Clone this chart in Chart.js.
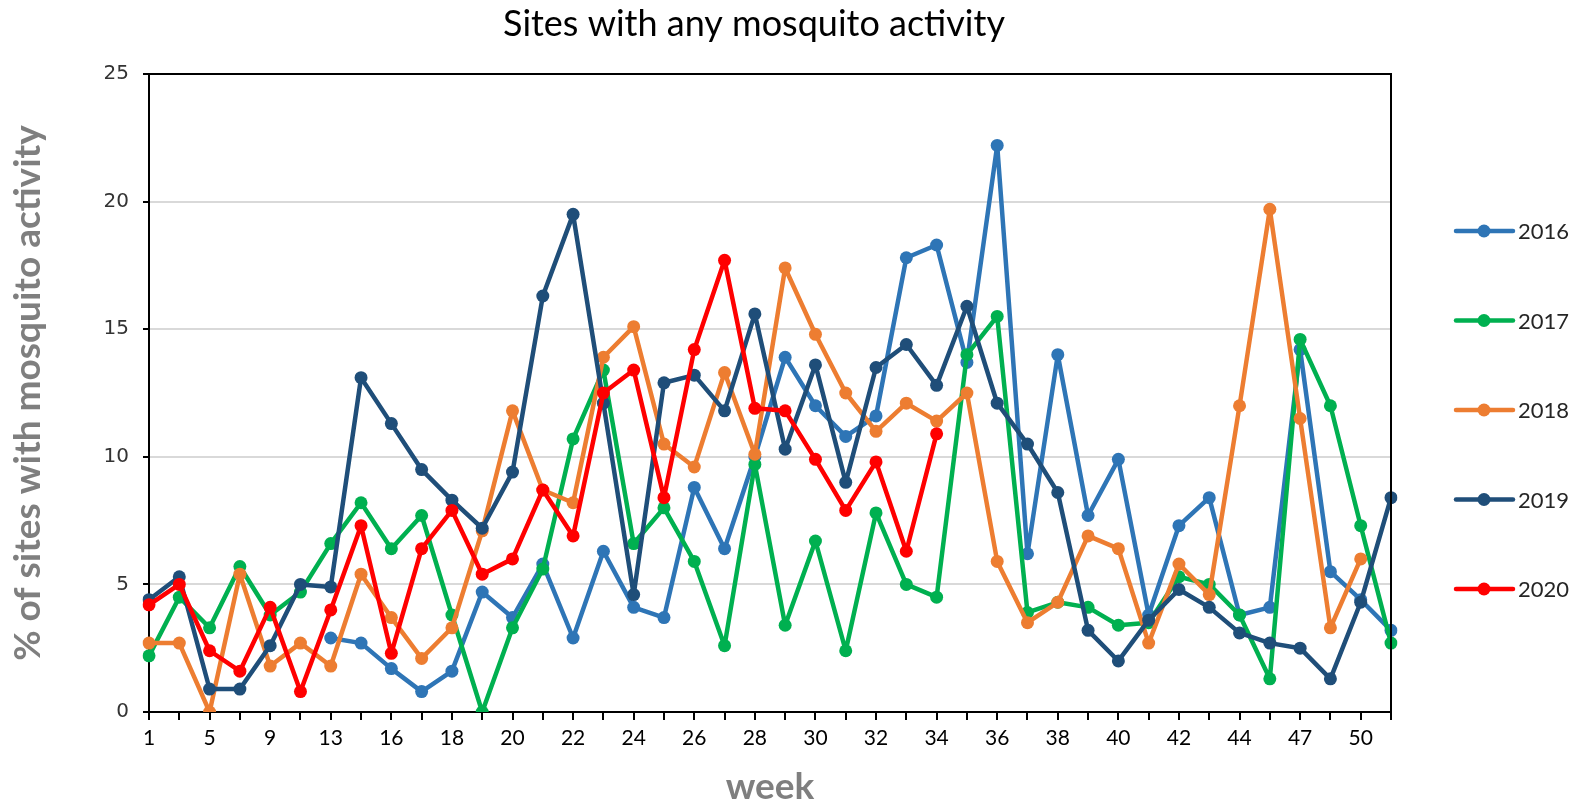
<!DOCTYPE html>
<html>
<head>
<meta charset="utf-8">
<title>Sites with any mosquito activity</title>
<script src="https://cdn.jsdelivr.net/npm/chart.js@4"></script>
<style>
  html, body { margin: 0; padding: 0; background: #fff; }
  canvas { display: block; }
</style>
</head>
<body>
<canvas id="chart" width="1587" height="803"></canvas>
<script>
const weeks = [1, 3, 5, 7, 9, 11, 13, 15, 16, 17, 18, 19, 20, 21, 22, 23, 24, 25, 26, 27, 28,
  29, 30, 31, 32, 33, 34, 35, 36, 37, 38, 39, 40, 41, 42, 43, 44, 46, 47, 49, 50, 52];

const years = ["2016", "2017", "2018", "2019", "2020"];
const colors = ["#2e75b6", "#00b050", "#ed7d31", "#1f4e79", "#ff0000"];

const s2016 = [null, null, null, null, null, null, 2.9, 2.7, 1.7, 0.8, 1.6, 4.7, 3.7, 5.8, 2.9, 6.3,
  4.1, 3.7, 8.8, 6.4, 10.0, 13.9, 12.0, 10.8, 11.6, 17.8, 18.3, 13.7, 22.2, 6.2, 14.0, 7.7, 9.9,
  3.8, 7.3, 8.4, 3.8, 4.1, 14.2, 5.5, 4.4, 3.2];
const s2017 = [2.2, 4.5, 3.3, 5.7, 3.8, 4.7, 6.6, 8.2, 6.4, 7.7, 3.8, 0, 3.3, 5.6, 10.7, 13.4,
  6.6, 8.0, 5.9, 2.6, 9.7, 3.4, 6.7, 2.4, 7.8, 5.0, 4.5, 14.0, 15.5, 3.9, 4.3, 4.1, 3.4, 3.5,
  5.3, 5.0, 3.8, 1.3, 14.6, 12.0, 7.3, 2.7];
const s2018 = [2.7, 2.7, 0, 5.4, 1.8, 2.7, 1.8, 5.4, 3.7, 2.1, 3.3, 7.1, 11.8, 8.7, 8.2, 13.9,
  15.1, 10.5, 9.6, 13.3, 10.1, 17.4, 14.8, 12.5, 11.0, 12.1, 11.4, 12.5, 5.9, 3.5, 4.3, 6.9, 6.4,
  2.7, 5.8, 4.6, 12.0, 19.7, 11.5, 3.3, 6.0, null];
const s2019 = [4.4, 5.3, 0.9, 0.9, 2.6, 5.0, 4.9, 13.1, 11.3, 9.5, 8.3, 7.2, 9.4, 16.3, 19.5, 12.1,
  4.6, 12.9, 13.2, 11.8, 15.6, 10.3, 13.6, 9.0, 13.5, 14.4, 12.8, 15.9, 12.1, 10.5, 8.6, 3.2, 2.0,
  3.6, 4.8, 4.1, 3.1, 2.7, 2.5, 1.3, 4.3, 8.4];
const s2020 = [4.2, 5.0, 2.4, 1.6, 4.1, 0.8, 4.0, 7.3, 2.3, 6.4, 7.9, 5.4, 6.0, 8.7, 6.9, 12.5,
  13.4, 8.4, 14.2, 17.7, 11.9, 11.8, 9.9, 7.9, 9.8, 6.3, 10.9, null, null, null, null, null, null,
  null, null, null, null, null, null, null, null, null];

const yTicks = [0, 5, 10, 15, 20, 25];

const series = [s2016, s2017, s2018, s2019, s2020];
const grey = "#7f7f7f";

// later years sit on top, like in the original
const datasets = series.map((values, i) => ({
  label: years[i],
  data: values,
  borderColor: colors[i],
  backgroundColor: colors[i],
  pointBackgroundColor: colors[i],
  pointBorderWidth: 0,
  pointRadius: 6.5,
  borderWidth: 4.5,
  borderJoinStyle: "round",
  borderCapStyle: "round",
  tension: 0,
  order: series.length - i
}));

// chart title, centred over the whole picture like the original
const topTitle = {
  id: "topTitle",
  afterDraw(chart) {
    const ctx = chart.ctx;
    ctx.save();
    ctx.fillStyle = "#000";
    ctx.font = "36px Lato";
    ctx.textAlign = "center";
    ctx.textBaseline = "middle";
    ctx.fillText("Sites with any mosquito activity", 754, 24);
    ctx.restore();
  }
};

// black frame on top and right of the plot
const frame = {
  id: "frame",
  afterDatasetsDraw(chart) {
    const { ctx, chartArea: a } = chart;
    ctx.save();
    ctx.strokeStyle = "#000";
    ctx.lineWidth = 2;
    ctx.beginPath();
    ctx.moveTo(a.left, a.top);
    ctx.lineTo(a.right, a.top);
    ctx.lineTo(a.right, a.bottom);
    ctx.stroke();
    ctx.restore();
  }
};

// legend at the right, line with a dot then the year
const sideLegend = {
  id: "sideLegend",
  afterDraw(chart) {
    const ctx = chart.ctx;
    ctx.save();
    chart.data.datasets.forEach((ds, i) => {
      const y = 231 + i * 89.5;
      ctx.strokeStyle = ds.borderColor;
      ctx.lineWidth = 4.5;
      ctx.lineCap = "round";
      ctx.beginPath();
      ctx.moveTo(1456, y);
      ctx.lineTo(1513, y);
      ctx.stroke();
      ctx.fillStyle = ds.borderColor;
      ctx.beginPath();
      ctx.arc(1484, y, 6.5, 0, Math.PI * 2);
      ctx.fill();
      ctx.fillStyle = "#262626";
      ctx.font = "22px Lato";
      ctx.textBaseline = "middle";
      ctx.fillText(ds.label, 1518, y + 1);
    });
    ctx.restore();
  }
};

new Chart(document.getElementById("chart"), {
  type: "line",
  data: { labels: weeks, datasets: datasets },
  plugins: [topTitle, frame, sideLegend],
  options: {
    responsive: false,
    animation: false,
    devicePixelRatio: 1,
    layout: { padding: { left: 0, right: 196, top: 74, bottom: 0 } },
    plugins: {
      legend: { display: false },
      tooltip: { enabled: false },
      title: { display: false }
    },
    scales: {
      x: {
        type: "category",
        offset: false,
        afterFit: scale => { scale.height = 91; },
        grid: { display: true, drawOnChartArea: false, tickLength: 8, color: "#000", lineWidth: 2 },
        border: { color: "#000", width: 2 },
        ticks: {
          autoSkip: false,
          maxRotation: 0,
          minRotation: 0,
          padding: 6,
          color: "#000",
          font: { family: "Lato", size: 21 },
          callback: (val, i) => (i % 2 === 0 ? weeks[i] : "")
        },
        title: {
          display: true,
          text: "week",
          color: grey,
          font: { family: "Lato", size: 37, weight: "bold", lineHeight: 0.85 },
          padding: { top: 0, bottom: 0 }
        }
      },
      y: {
        min: 0,
        max: 25,
        afterFit: scale => { scale.width = 149; },
        afterBuildTicks: scale => { scale.ticks = yTicks.map(v => ({ value: v })); },
        grid: { color: "#d9d9d9", lineWidth: 2, tickLength: 6, tickColor: "#000", tickWidth: 2 },
        border: { color: "#000", width: 2 },
        ticks: {
          padding: 14,
          color: "#333",
          font: { family: "DejaVu Sans", size: 20 }
        },
        title: {
          display: true,
          text: "% of sites with mosquito activity",
          color: grey,
          font: { family: "Lato", size: 37, weight: "bold", lineHeight: 1.2 },
          padding: { top: 6, bottom: 0 }
        }
      }
    }
  }
});
</script>
</body>
</html>
